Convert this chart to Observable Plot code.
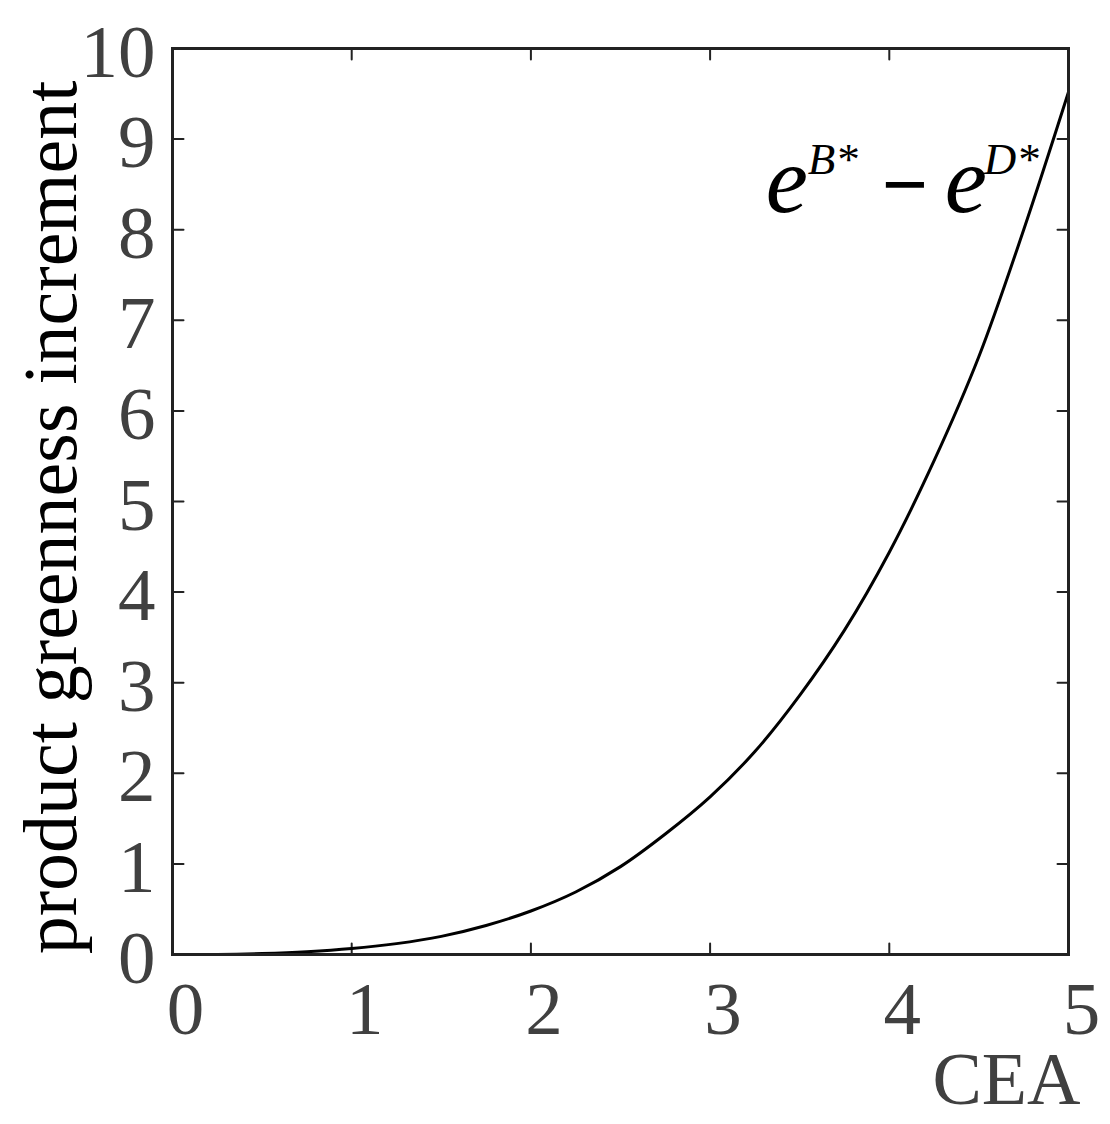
<!DOCTYPE html>
<html>
<head>
<meta charset="utf-8">
<script src="https://cdn.jsdelivr.net/npm/d3@7"></script>
<script src="https://cdn.jsdelivr.net/npm/@observablehq/plot@0.6"></script>
<style>
  html, body { margin: 0; padding: 0; background: #fff; }
  #chart svg { display: block; }
</style>
</head>
<body>
<div id="chart"></div>
<script>
// CEA values (x) and product greenness increment (y)
const cea = [0, 0.25, 0.5, 0.75, 1, 1.25, 1.5, 1.75, 2, 2.25, 2.5, 2.75, 3, 3.25, 3.5, 3.75, 4, 4.25, 4.5, 4.75, 5];
const increment = [0, 0, 0.01, 0.03, 0.065, 0.12, 0.2, 0.32, 0.48, 0.69, 0.97, 1.33, 1.74, 2.24, 2.86, 3.58, 4.44, 5.45, 6.6, 8.0, 9.52];

const xTicks = [0, 1, 2, 3, 4, 5];
const yTicks = [0, 1, 2, 3, 4, 5, 6, 7, 8, 9, 10];
const xLabel = "CEA";
const yLabel = "product greenness increment";
// annotation: e^{B*} − e^{D*}
const annotationParts = ["e", "B*", "\u2212", "e", "D*"];
const annotationAt = {x: 3.31, y: 8.2};

const data = cea.map((x, i) => ({x, y: increment[i]}));
const serif = "'Liberation Serif', 'Times New Roman', Times, serif";
const axisColor = "#222222";
const labelColor = "#404040";

const partStyle = [
  {dx: 0, dy: 0, fontSize: 95, fontStyle: "italic", fontWeight: "normal"},
  {dx: 42, dy: -38, fontSize: 45, fontStyle: "italic", fontWeight: "normal"},
  {dx: 116, dy: 0, fontSize: 82, fontStyle: "normal", fontWeight: "bold"},
  {dx: 179, dy: 0, fontSize: 95, fontStyle: "italic", fontWeight: "normal"},
  {dx: 218, dy: -38, fontSize: 45, fontStyle: "italic", fontWeight: "normal"}
];

const tickOpts = {length: 11, anchor: "start", r: 0, stroke: axisColor, strokeWidth: 2};
const intFormat = d => String(d);

const chart = Plot.plot({
  width: 1110,
  height: 1124,
  marginLeft: 172,
  marginRight: 42,
  marginTop: 48,
  marginBottom: 170,
  x: {domain: [0, 5]},
  y: {domain: [0, 10]},
  style: {fontFamily: serif, background: "white", overflow: "visible"},
  marks: [
    Plot.axisX(xTicks, {tickSize: 0, tickPadding: 26, dx: 13, fontSize: 75, fill: labelColor, label: null, tickFormat: intFormat}),
    Plot.axisY(yTicks, {tickSize: 0, tickPadding: 17, dy: 4, fontSize: 75, fill: labelColor, label: null, tickFormat: intFormat}),
    // inward ticks on all four sides
    Plot.vector(xTicks, {x: d => d, y: 0, rotate: 0, ...tickOpts}),
    Plot.vector(xTicks, {x: d => d, y: 10, rotate: 180, ...tickOpts}),
    Plot.vector(yTicks, {x: 0, y: d => d, rotate: 90, ...tickOpts}),
    Plot.vector(yTicks, {x: 5, y: d => d, rotate: 270, ...tickOpts}),
    Plot.line(data, {x: "x", y: "y", curve: "catmull-rom", stroke: "#000", strokeWidth: 3}),
    Plot.frame({stroke: axisColor, strokeWidth: 3}),
    // annotation pieces
    ...annotationParts.map((t, i) => Plot.text([t], {
      x: annotationAt.x, y: annotationAt.y, text: d => d,
      textAnchor: "start", lineAnchor: "bottom",
      dx: partStyle[i].dx, dy: partStyle[i].dy,
      fontSize: partStyle[i].fontSize, fontStyle: partStyle[i].fontStyle,
      fontWeight: partStyle[i].fontWeight,
      fill: "#000"
    })),
    // axis titles
    Plot.text([yLabel], {frameAnchor: "left", text: d => d, rotate: -90, dx: -97, dy: 16,
      lineAnchor: "bottom", textAnchor: "middle", fontSize: 76, fill: "#000"}),
    Plot.text([xLabel], {frameAnchor: "bottom-right", text: d => d, dx: 12, dy: 149,
      lineAnchor: "bottom", textAnchor: "end", fontSize: 74, fill: labelColor})
  ]
});

document.getElementById("chart").appendChild(chart);
</script>
</body>
</html>
